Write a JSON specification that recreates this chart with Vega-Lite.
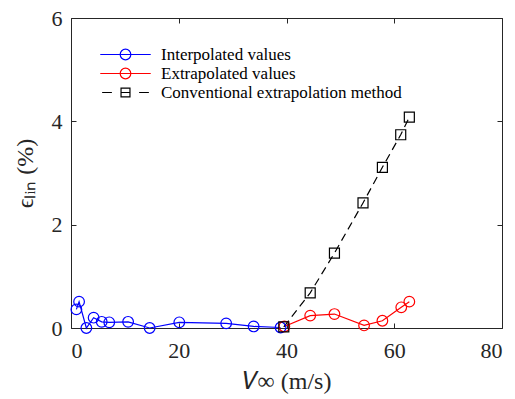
{
  "$schema": "https://vega.github.io/schema/vega-lite/v6.json",
  "width": 431,
  "height": 310,
  "autosize": {"type": "none"},
  "padding": {"left": 71, "top": 18, "right": 13, "bottom": 71},
  "config": {
    "font": "Liberation Serif",
    "view": {"stroke": "#262626", "strokeWidth": 1},
    "axis": {
      "domain": false,
      "grid": false,
      "tickColor": "#262626",
      "tickSize": -5,
      "tickWidth": 1,
      "labelColor": "#262626",
      "labelFont": "Liberation Serif",
      "labelFontSize": 22,
      "titleFont": "Liberation Serif",
      "titleFontSize": 24,
      "titleFontWeight": "normal",
      "titleColor": "#262626"
    },
    "legend": {
      "labelFont": "Liberation Serif",
      "labelFontSize": 17,
      "labelColor": "#000000",
      "labelLimit": 400,
      "symbolStrokeWidth": 1.2,
      "symbolSize": 289,
      "padding": 0,
      "rowPadding": 1,
      "labelOffset": 26
    }
  },
  "data": {
    "values": [
      {"series": "Interpolated values", "x": 1.0, "y": 0.36},
      {"series": "Interpolated values", "x": 1.5, "y": 0.51},
      {"series": "Interpolated values", "x": 2.85, "y": 0.0},
      {"series": "Interpolated values", "x": 4.2, "y": 0.2},
      {"series": "Interpolated values", "x": 5.7, "y": 0.12},
      {"series": "Interpolated values", "x": 7.1, "y": 0.11},
      {"series": "Interpolated values", "x": 10.6, "y": 0.12},
      {"series": "Interpolated values", "x": 14.6, "y": 0.0},
      {"series": "Interpolated values", "x": 20.1, "y": 0.11},
      {"series": "Interpolated values", "x": 28.8, "y": 0.09},
      {"series": "Interpolated values", "x": 33.9, "y": 0.03},
      {"series": "Interpolated values", "x": 38.9, "y": 0.01},
      {"series": "Extrapolated values", "x": 39.6, "y": 0.03},
      {"series": "Extrapolated values", "x": 44.4, "y": 0.24},
      {"series": "Extrapolated values", "x": 48.9, "y": 0.27},
      {"series": "Extrapolated values", "x": 54.4, "y": 0.05},
      {"series": "Extrapolated values", "x": 57.8, "y": 0.14},
      {"series": "Extrapolated values", "x": 61.3, "y": 0.4},
      {"series": "Extrapolated values", "x": 62.8, "y": 0.51},
      {"series": "Conventional extrapolation method", "x": 39.5, "y": 0.02},
      {"series": "Conventional extrapolation method", "x": 44.4, "y": 0.68},
      {"series": "Conventional extrapolation method", "x": 48.9, "y": 1.45},
      {"series": "Conventional extrapolation method", "x": 54.2, "y": 2.42},
      {"series": "Conventional extrapolation method", "x": 57.8, "y": 3.11},
      {"series": "Conventional extrapolation method", "x": 61.2, "y": 3.74},
      {"series": "Conventional extrapolation method", "x": 62.8, "y": 4.08}
    ]
  },
  "resolve": {"axis": {"x": "independent", "y": "independent"}},
  "layer": [
    {
      "transform": [{"filter": "datum.series != 'Conventional extrapolation method'"}],
      "mark": {"type": "line", "strokeWidth": 1.2},
      "encoding": {
        "x": {
          "field": "x", "type": "quantitative",
          "scale": {"domain": [0, 80], "nice": false},
          "axis": {"values": [0, 20, 40, 60, 80], "title": "𝑉∞ (m/s)", "labelPadding": 17, "titlePadding": 8}
        },
        "y": {
          "field": "y", "type": "quantitative",
          "scale": {"domain": [0, 6], "nice": false},
          "axis": {"values": [0, 2, 4, 6], "title": "ϵₗᵢₙ (%)", "labelPadding": 14, "titlePadding": 14}
        },
        "detail": {"field": "series"},
        "color": {
          "field": "series", "type": "nominal",
          "scale": {
            "domain": ["Interpolated values", "Extrapolated values", "Conventional extrapolation method"],
            "range": ["#0000ff", "#ff0000", "#000000"]
          },
          "legend": {"title": null, "orient": "none", "legendX": 45, "legendY": 27}
        }
      }
    },
    {
      "transform": [{"filter": "datum.series == 'Conventional extrapolation method'"}],
      "mark": {"type": "line", "strokeWidth": 1.2, "strokeDash": [8, 5]},
      "encoding": {
        "x": {"field": "x", "type": "quantitative", "axis": null},
        "y": {"field": "y", "type": "quantitative", "axis": null},
        "color": {"field": "series", "type": "nominal", "legend": {"title": null, "orient": "none", "legendX": 45, "legendY": 27}}
      }
    },
    {
      "transform": [{"filter": "datum.series != 'Conventional extrapolation method'"}],
      "mark": {"type": "point", "shape": "circle", "size": 113, "filled": false, "strokeWidth": 1.2, "opacity": 1},
      "encoding": {
        "x": {"field": "x", "type": "quantitative", "axis": {"orient": "top", "values": [0, 20, 40, 60, 80], "labels": false, "title": null}},
        "y": {"field": "y", "type": "quantitative", "axis": {"orient": "right", "values": [0, 2, 4, 6], "labels": false, "title": null}},
        "color": {"field": "series", "type": "nominal", "legend": {"title": null, "orient": "none", "legendX": 45, "legendY": 27}}
      }
    },
    {
      "transform": [{"filter": "datum.series == 'Conventional extrapolation method'"}],
      "mark": {"type": "point", "shape": "square", "size": 100, "filled": false, "strokeWidth": 1.2, "opacity": 1},
      "encoding": {
        "x": {"field": "x", "type": "quantitative", "axis": null},
        "y": {"field": "y", "type": "quantitative", "axis": null},
        "color": {"field": "series", "type": "nominal", "legend": {"title": null, "orient": "none", "legendX": 45, "legendY": 27}}
      }
    },
    {
      "transform": [{"filter": "datum.x < -1000"}],
      "mark": {"type": "point", "filled": false, "strokeWidth": 1.2, "opacity": 1},
      "encoding": {
        "x": {"field": "x", "type": "quantitative", "axis": null},
        "y": {"field": "y", "type": "quantitative", "axis": null},
        "color": {"field": "series", "type": "nominal", "legend": {"title": null, "orient": "none", "legendX": 45, "legendY": 27}},
        "shape": {
          "field": "series", "type": "nominal",
          "scale": {
            "domain": ["Interpolated values", "Extrapolated values", "Conventional extrapolation method"],
            "range": [
              "M-2.97,0H2.97M0.625,0A0.625,0.625,0,1,1,-0.625,0A0.625,0.625,0,1,1,0.625,0",
              "M-2.97,0H2.97M0.625,0A0.625,0.625,0,1,1,-0.625,0A0.625,0.625,0,1,1,0.625,0",
              "M-2.75,0H-1.6M-0.525,0H0.525M1.6,0H2.75M-0.525,-0.525H0.525V0.525H-0.525Z"
            ]
          },
          "legend": {"title": null, "orient": "none", "legendX": 45, "legendY": 27}
        }
      }
    }
  ]
}
